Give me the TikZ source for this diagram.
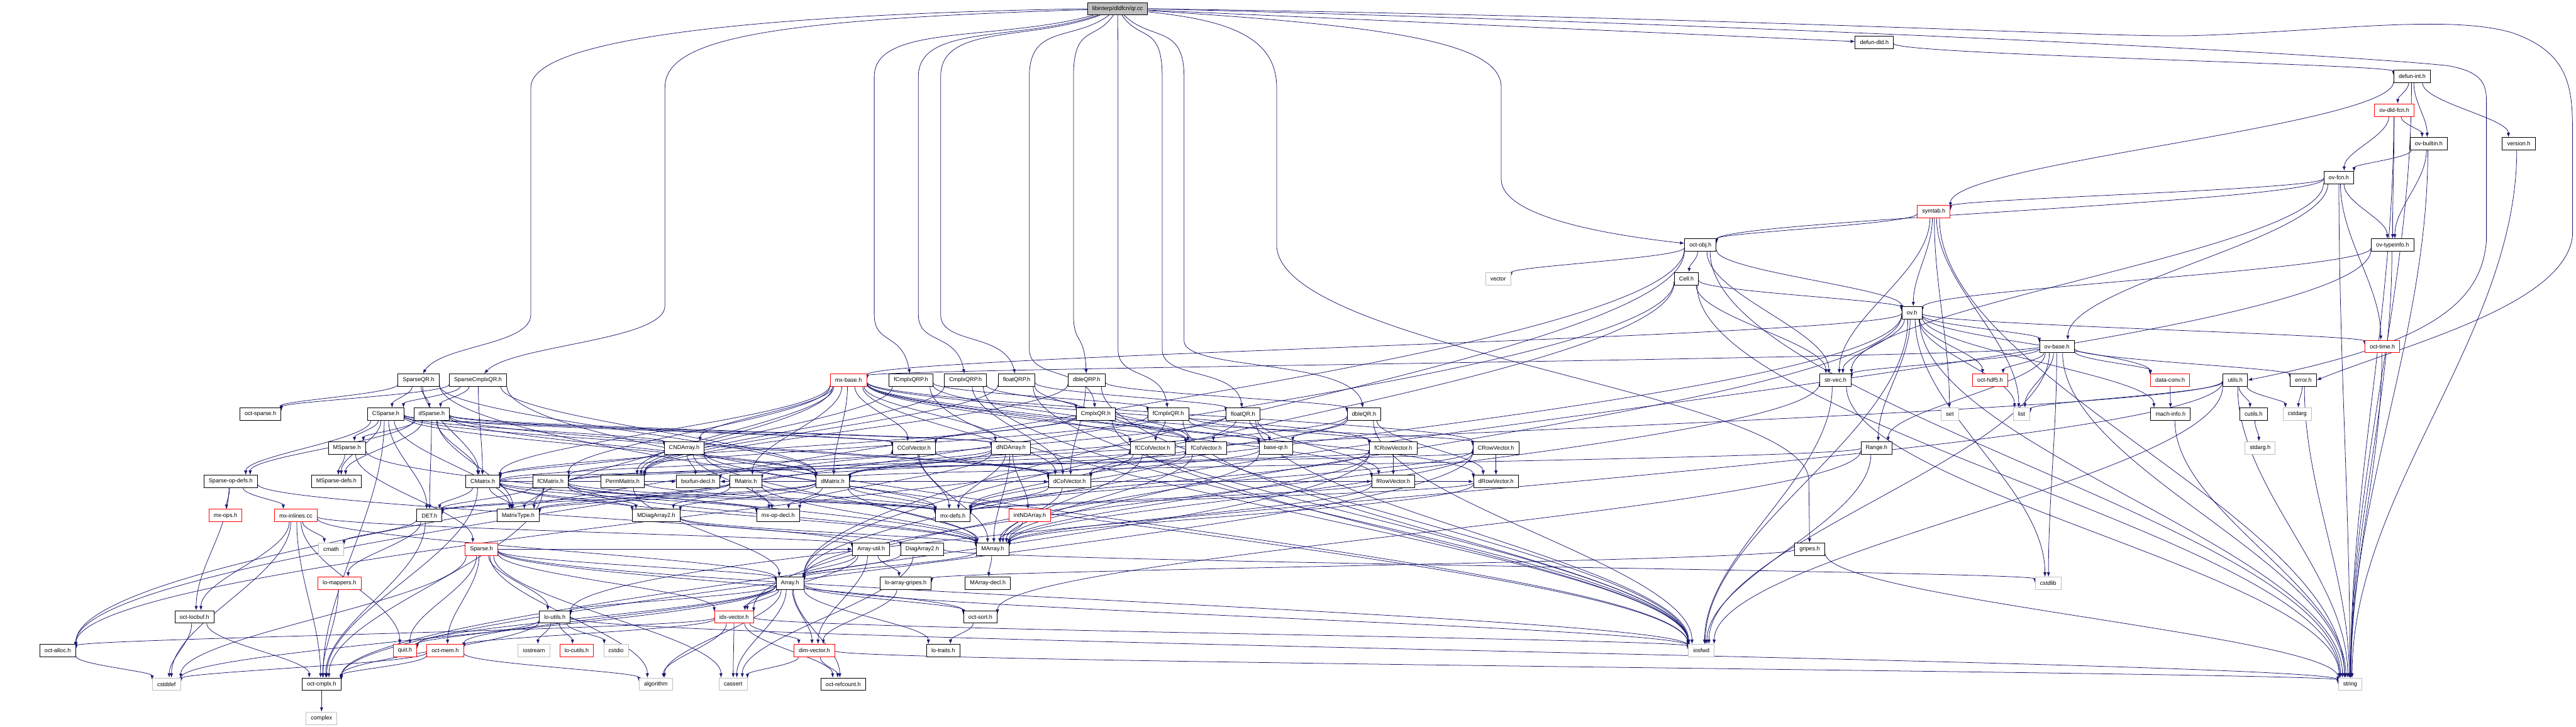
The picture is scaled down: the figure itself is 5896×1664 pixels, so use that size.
\documentclass[tikz,border=0pt]{standalone}
\usepackage{fontspec}
\setmainfont{Liberation Sans}
\usetikzlibrary{arrows.meta,calc}
\definecolor{edgec}{HTML}{191970}
\definecolor{grayb}{HTML}{BFBFBF}
\pgfdeclarelayer{bg}
\pgfsetlayers{bg,main}
\tikzset{
  box/.style={draw, fill=white, line width=0.65pt, inner xsep=5.5pt, inner ysep=0pt,
    minimum height=14.3pt, font=\fontsize{6.55pt}{7.5pt}\selectfont, anchor=center},
  nb/.style={box, draw=black},
  ng/.style={box, draw=grayb},
  nr/.style={box, draw=red},
  nroot/.style={box, draw=black, fill=grayb},
  e/.style={draw=edgec, line width=0.55pt, -{Latex[length=5pt,width=3.8pt]}}
}
% generic doxygen-like edge: border to border, vertical-ish tangents
\newcommand{\E}[2]{\foreach \t in {#2} {%
  \path (#1) -- (\t) coordinate[pos=0] (eS) coordinate[pos=1] (eT);%
  \draw[e] let \p1=(eS), \p2=(eT) in (eS) .. controls (\x1,{\y1+0.35*(\y2-\y1)}) and (\x2,{\y2-0.35*(\y2-\y1)}) .. (eT);}}
% edges of the root that fan out and run down vertically
\newcommand{\Er}[4]{%
  \draw[e] (root) .. controls ({0.5*(2558+#2)},95) and (#2,55) .. (#2,175) -- (#2,#3) .. controls (#2,{#3+70}) and (#4,{#3+40}) .. (#1);}
\begin{document}
\begin{tikzpicture}[x=0.5pt,y=-0.5pt]
\useasboundingbox (0,0) rectangle (5896,1664);
% rank 0-10
\node[nroot] (root) at (2558,20) {libinterp/dldfcn/qr.cc};
\node[nb] (defundld) at (4290,97) {defun-dld.h};
\node[nb] (defunint) at (5521,175) {defun-int.h};
\node[nr] (ovdldfcn) at (5480,252) {ov-dld-fcn.h};
\node[nb] (ovbuiltin) at (5559,329) {ov-builtin.h};
\node[nb] (version) at (5765,329) {version.h};
\node[nb] (ovfcn) at (5353,406) {ov-fcn.h};
\node[nr] (symtab) at (4426,484) {symtab.h};
\node[nb] (octobj) at (3892,561) {oct-obj.h};
\node[nb] (ovtypeinfo) at (5476,561) {ov-typeinfo.h};
\node[ng] (vector) at (3429,638) {vector};
\node[nb] (cell) at (3860,638) {Cell.h};
\node[nb] (ov) at (4376,716) {ov.h};
\node[nb] (ovbase) at (4708,793) {ov-base.h};
\node[nr] (octtime) at (5453,793) {oct-time.h};
% rank 11
\node[nb] (SparseQR) at (958,870) {SparseQR.h};
\node[nb] (SparseCmplxQR) at (1094,870) {SparseCmplxQR.h};
\node[nr] (mxbase) at (1942,870) {mx-base.h};
\node[nb] (fCmplxQRP) at (2085,870) {fCmplxQRP.h};
\node[nb] (CmplxQRP) at (2210,870) {CmplxQRP.h};
\node[nb] (floatQRP) at (2327,870) {floatQRP.h};
\node[nb] (dbleQRP) at (2487,870) {dbleQRP.h};
\node[nb] (strvec) at (4201,870) {str-vec.h};
\node[nr] (octhdf5) at (4555,870) {oct-hdf5.h};
\node[nr] (dataconv) at (4967,870) {data-conv.h};
\node[nb] (utils) at (5116,870) {utils.h};
\node[nb] (error) at (5272,870) {error.h};
% rank 12
\node[nb] (octsparse) at (596,948) {oct-sparse.h};
\node[nb] (CSparse) at (883,948) {CSparse.h};
\node[nb] (dSparse) at (988,948) {dSparse.h};
\node[nb] (CmplxQR) at (2508,948) {CmplxQR.h};
\node[nb] (fCmplxQR) at (2674,948) {fCmplxQR.h};
\node[nb] (floatQR) at (2845,948) {floatQR.h};
\node[nb] (dbleQR) at (3122,948) {dbleQR.h};
\node[ng] (set) at (4463,948) {set};
\node[ng] (list) at (4627,948) {list};
\node[nb] (machinfo) at (4968,948) {mach-info.h};
\node[nb] (cutils) at (5158,948) {cutils.h};
\node[ng] (cstdarg) at (5258,948) {cstdarg};
% rank 13
\node[nb] (MSparse) at (794,1025) {MSparse.h};
\node[nb] (CNDArray) at (1566,1025) {CNDArray.h};
\node[nb] (CColVector) at (2092,1025) {CColVector.h};
\node[nb] (dNDArray) at (2314,1025) {dNDArray.h};
\node[nb] (fCColVector) at (2638,1025) {fCColVector.h};
\node[nb] (fColVector) at (2761,1025) {fColVector.h};
\node[nb] (baseqr) at (2920,1025) {base-qr.h};
\node[nb] (fCRowVector) at (3189,1025) {fCRowVector.h};
\node[nb] (CRowVector) at (3424,1025) {CRowVector.h};
\node[nb] (range) at (4295,1025) {Range.h};
\node[ng] (stdargh) at (5173,1025) {stdarg.h};
% rank 14
\node[nb] (Sparseopdefs) at (528,1102) {Sparse-op-defs.h};
\node[nb] (MSparsedefs) at (770,1102) {MSparse-defs.h};
\node[nb] (CMatrix) at (1105,1102) {CMatrix.h};
\node[nb] (fCMatrix) at (1260,1102) {fCMatrix.h};
\node[nb] (PermMatrix) at (1425,1102) {PermMatrix.h};
\node[nb] (bsxfun) at (1598,1102) {bsxfun-decl.h};
\node[nb] (fMatrix) at (1707,1102) {fMatrix.h};
\node[nb] (dMatrix) at (1906,1102) {dMatrix.h};
\node[nb] (dColVector) at (2448,1102) {dColVector.h};
\node[nb] (fRowVector) at (3189,1102) {fRowVector.h};
\node[nb] (dRowVector) at (3424,1102) {dRowVector.h};
% rank 15
\node[nr] (mxops) at (516,1180) {mx-ops.h};
\node[nr] (mxinlines) at (677,1180) {mx-inlines.cc};
\node[nb] (DET) at (983,1180) {DET.h};
\node[nb] (MatrixType) at (1186,1180) {MatrixType.h};
\node[nb] (MDiagArray2) at (1502,1180) {MDiagArray2.h};
\node[nb] (mxopdecl) at (1781,1180) {mx-op-decl.h};
\node[nb] (mxdefs) at (2181,1180) {mx-defs.h};
\node[nr] (intNDArray) at (2357,1180) {intNDArray.h};
% rank 16
\node[ng] (cmath) at (758,1257) {cmath};
\node[nr] (Sparse) at (1102,1257) {Sparse.h};
\node[nb] (Arrayutil) at (1994,1257) {Array-util.h};
\node[nb] (DiagArray2) at (2111,1257) {DiagArray2.h};
\node[nb] (MArray) at (2272,1257) {MArray.h};
\node[nb] (gripes) at (4142,1257) {gripes.h};
% rank 17
\node[nr] (lomappers) at (777,1335) {lo-mappers.h};
\node[nb] (Array) at (1808,1335) {Array.h};
\node[nb] (loarraygripes) at (2073,1335) {lo-array-gripes.h};
\node[nb] (MArraydecl) at (2261,1335) {MArray-decl.h};
\node[ng] (cstdlib) at (4688,1335) {cstdlib};
% rank 18
\node[nb] (octlocbuf) at (445,1412) {oct-locbuf.h};
\node[nb] (loutils) at (1270,1412) {lo-utils.h};
\node[nr] (idxvector) at (1680,1412) {idx-vector.h};
\node[nb] (octsort) at (2244,1412) {oct-sort.h};
% rank 19
\node[nb] (octalloc) at (132,1489) {oct-alloc.h};
\node[nr] (quit) at (927,1489) {quit.h};
\node[nr] (octmem) at (1019,1489) {oct-mem.h};
\node[ng] (iostream) at (1222,1489) {iostream};
\node[nr] (locutils) at (1320,1489) {lo-cutils.h};
\node[ng] (cstdio) at (1410,1489) {cstdio};
\node[nr] (dimvector) at (1864,1489) {dim-vector.h};
\node[nb] (lotraits) at (2159,1489) {lo-traits.h};
\node[ng] (iosfwd) at (3894,1489) {iosfwd};
% rank 20-21
\node[ng] (cstddef) at (381,1566) {cstddef};
\node[nb] (octcmplx) at (736,1566) {oct-cmplx.h};
\node[ng] (algorithm) at (1501,1566) {algorithm};
\node[ng] (cassert) at (1678,1566) {cassert};
\node[nb] (octrefcount) at (1930,1566) {oct-refcount.h};
\node[ng] (string) at (5379,1566) {string};
\node[ng] (complex) at (736,1644) {complex};

\begin{pgfonlayer}{bg}
% root
\draw[e] (root.west) .. controls (1900,30) and (1215,70) .. (1215,200) -- (1215,720) .. controls (1215,790) and (1010,790) .. (SparseQR);
\draw[e] (root) .. controls (1750,45) and (1522,90) .. (1522,200) -- (1522,700) .. controls (1522,780) and (1170,790) .. (SparseCmplxQR);
\Er{fCmplxQRP}{2001}{720}{2066}
\Er{CmplxQRP}{2102}{720}{2190}
\Er{floatQRP}{2153}{720}{2300}
\Er{CmplxQR}{2356}{800}{2495}
\Er{dbleQRP}{2457}{720}{2482}
\Er{fCmplxQR}{2559}{800}{2660}
\Er{floatQR}{2660}{800}{2830}
\Er{dbleQR}{2710}{780}{3100}
\draw[e] (root) .. controls (2800,45) and (2922,80) .. (2922,200) -- (2922,560) .. controls (2922,800) and (4140,900) .. (4140,1100) -- (gripes);
\draw[e] (root) .. controls (3200,60) and (3436,100) .. (3436,200) -- (3436,410) .. controls (3436,500) and (3700,540) .. (octobj);
\draw[e] (root) -- (defundld);
\draw[e] (root.east) .. controls (4000,40) and (4800,85) .. (5000,82) .. controls (5300,75) and (5600,30) .. (5750,75) .. controls (5880,120) and (5888,200) .. (5888,300) -- (5888,540) .. controls (5870,700) and (5500,790) .. (error.east);
\draw[e] (root.east) .. controls (4000,55) and (5300,120) .. (5600,150) .. controls (5691,165) and (5691,200) .. (5691,240) -- (5691,550) .. controls (5680,700) and (5550,790) .. (utils.east);
% the rest
\E{defundld}{defunint}
\E{defunint}{ovdldfcn,ovbuiltin,version,symtab,string}
\E{ovdldfcn}{ovfcn,ovbuiltin,ovtypeinfo,string}
\E{ovbuiltin}{ovfcn,ovtypeinfo,string}
\E{version}{string}
\E{ovfcn}{octtime,strvec,octobj,ovbase,ovtypeinfo,symtab,string}
\E{symtab}{octobj,ov,set,list,string,strvec}
\E{octobj}{vector,cell,strvec,ov,octalloc,Array,string}
\E{cell}{Array,octalloc,strvec,ov,string}
\E{ovtypeinfo}{Array,ov,string}
\E{ov}{range,dataconv,idxvector,machinfo,mxbase,octalloc,octtime,strvec,octhdf5,ovbase,string,list,iosfwd,cstdlib}
\E{ovbase}{cstdlib,iosfwd,list,string,range,dataconv,mxbase,strvec,error,octhdf5}
\E{octtime}{string}
\E{strvec}{iosfwd,string,Array}
\E{dataconv}{machinfo}
\E{utils}{cutils,cstdarg,list,iosfwd,string,loutils,dMatrix}
\E{error}{cstdarg,string}
\E{machinfo}{string}
\E{cutils}{stdargh}
\E{range}{iosfwd,dMatrix,octsort}
\E{gripes}{loarraygripes,string}
\E{dbleQR}{iosfwd,dMatrix,dColVector,dRowVector,baseqr}
\E{fCRowVector}{fRowVector,MArray,octcmplx,mxdefs}
\E{CRowVector}{dRowVector,MArray,octcmplx,mxdefs}
\E{fRowVector}{MArray,mxdefs}
\E{dRowVector}{MArray,mxdefs}
\E{mxbase}{MatrixType,dColVector,dRowVector,dMatrix,CColVector,CRowVector,CMatrix,fColVector,fRowVector,fMatrix,fCColVector,fCRowVector,fCMatrix,PermMatrix,dNDArray,CNDArray}
\E{fCmplxQRP}{iosfwd,fCmplxQR,PermMatrix,fColVector}
\E{CmplxQRP}{iosfwd,CmplxQR,PermMatrix,dColVector}
\E{floatQRP}{iosfwd,floatQR,PermMatrix,fColVector}
\E{dbleQRP}{iosfwd,dbleQR,PermMatrix,dColVector}
\E{CmplxQR}{iosfwd,CMatrix,CColVector,CRowVector,baseqr}
\E{fCmplxQR}{iosfwd,fCMatrix,fCColVector,fCRowVector,baseqr}
\E{floatQR}{iosfwd,fMatrix,fColVector,fRowVector,baseqr}
\E{CNDArray}{MArray,CMatrix,mxdefs,mxopdecl,bsxfun}
\E{dNDArray}{MArray,intNDArray,dMatrix,mxdefs,mxopdecl,bsxfun}
\E{CColVector}{MArray,dColVector,mxdefs}
\E{fCColVector}{MArray,mxdefs}
\E{dColVector}{MArray,mxdefs}
\E{fColVector}{MArray,mxdefs}
\E{baseqr}{MArray,dColVector}
\E{fMatrix}{fColVector,fRowVector,DET,MArray,MDiagArray2,MatrixType,mxdefs,mxopdecl,bsxfun}
\E{dMatrix}{dColVector,dRowVector,DET,MArray,MDiagArray2,MatrixType,mxdefs,mxopdecl,bsxfun}
\E{CMatrix}{CColVector,CRowVector,DET,MArray,MDiagArray2,MatrixType,mxdefs,mxopdecl,octcmplx,bsxfun}
\E{fCMatrix}{fCColVector,fCRowVector,DET,MArray,MDiagArray2,MatrixType,mxdefs,mxopdecl,octcmplx,bsxfun}
\E{PermMatrix}{Array,mxdefs}
\E{SparseQR}{iosfwd,dMatrix,CMatrix,dSparse,CSparse,octsparse}
\E{SparseCmplxQR}{iosfwd,dMatrix,CMatrix,dSparse,CSparse,octsparse}
\E{CSparse}{dMatrix,dNDArray,CNDArray,dColVector,CColVector,octcmplx,DET,MSparse,MSparsedefs,Sparseopdefs,MatrixType}
\E{dSparse}{dMatrix,dNDArray,CMatrix,dColVector,CColVector,DET,MSparse,MSparsedefs,Sparseopdefs,MatrixType}
\E{MSparse}{Sparse,MArray,MSparsedefs}
\E{Sparseopdefs}{Arrayutil,mxops,mxinlines,octlocbuf}
\E{mxinlines}{cstddef,cmath,quit,octcmplx,octlocbuf,Array,Arrayutil}
\E{DET}{cmath,octcmplx,lomappers}
\E{MDiagArray2}{DiagArray2,MArray}
\E{Sparse}{cassert,cstddef,iosfwd,algorithm,Array,Arrayutil,idxvector,octsort,quit,octmem,loutils}
\E{lomappers}{octcmplx}
\E{octlocbuf}{cstddef,octcmplx}
\E{loutils}{cstdio,iostream,string,quit,octcmplx,locutils}
\E{octalloc}{cstddef}
\E{octmem}{cstddef,octcmplx,algorithm}
\E{octcmplx}{complex}
\E{intNDArray}{MArray}
\E{Arrayutil}{Array,dimvector,idxvector,loarraygripes}
\E{DiagArray2}{Array,cassert,cstdlib}
\E{MArray}{Array,MArraydecl}
\E{Array}{cassert,cstddef,algorithm,iosfwd,dimvector,idxvector,lotraits,loutils,octsort,quit,octmem,octrefcount}
\E{loarraygripes}{dimvector}
\E{idxvector}{cassert,algorithm,iosfwd,dimvector,octalloc,octmem,octrefcount}
\E{octsort}{lotraits}
\E{dimvector}{cassert,octrefcount,string}
\end{pgfonlayer}
\end{tikzpicture}
\end{document}
